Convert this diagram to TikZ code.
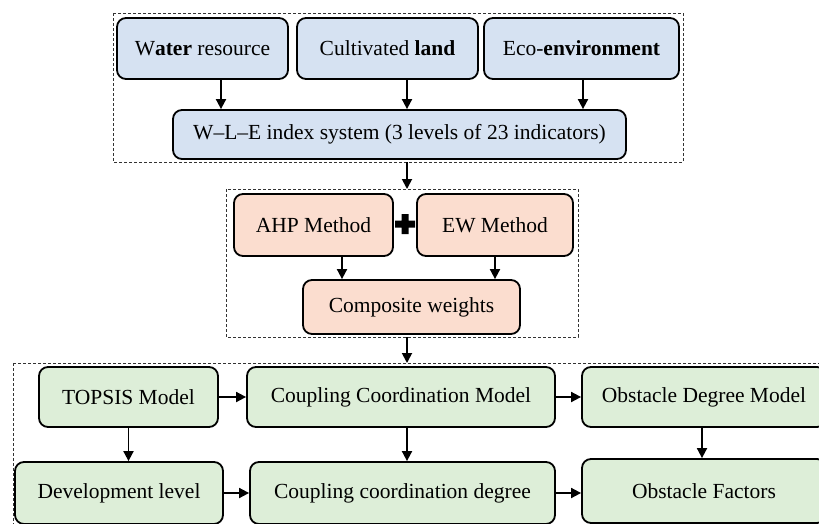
\documentclass[tikz,border=0pt]{standalone}
\usepackage{fontspec}
\setmainfont{Liberation Serif}
\usetikzlibrary{arrows.meta}
\definecolor{bluefill}{HTML}{D6E2F2}
\definecolor{orangefill}{HTML}{FBDDCF}
\definecolor{greenfill}{HTML}{DDEED8}
\tikzset{
  box/.style={draw=black, line width=1.8pt, rounded corners=9pt, inner sep=0pt, font=\fontsize{21.5}{25}\selectfont},
  bluebox/.style={box, fill=bluefill},
  orangebox/.style={box, fill=orangefill},
  greenbox/.style={box, fill=greenfill},
  arr/.style={line width=1.8pt, -{Triangle[length=10pt,width=10pt]}},
  group/.style={draw=black!80, line width=0.9pt, dash pattern=on 3pt off 2pt},
}
\begin{document}
\begin{tikzpicture}[x=1pt,y=-1pt]
\useasboundingbox (0,0) rectangle (819,523);
\clip (0,0) rectangle (819,523);
% group frames
\draw[group] (113,13) rectangle (683,162);
\draw[group] (226,189) rectangle (578,337);
\draw[group] (13,363) rectangle (840,560);
\coordinate (g1s) at (407,162);
\coordinate (g2n) at (407,189);
\coordinate (g2s) at (407,337);
\coordinate (g3n) at (407,363);
% top
\node[bluebox, minimum width=171pt, minimum height=61pt] (water) at (202.5,48.5) {W\textbf{ater} resource};
\node[bluebox, minimum width=181pt, minimum height=61pt] (land) at (387.5,48.5) {Cultivated \textbf{land}};
\node[bluebox, minimum width=195pt, minimum height=61pt] (eco) at (581.5,48.5) {Eco-\textbf{environment}};
\node[bluebox, minimum width=453pt, minimum height=49pt] (wle) at (399.5,134.5) {W--L--E index system (3 levels of 23 indicators)};
% middle
\node[orangebox, minimum width=159pt, minimum height=62pt] (ahp) at (313.5,225) {AHP Method};
\node[orangebox, minimum width=156pt, minimum height=62pt] (ew) at (495,225) {EW Method};
\node[orangebox, minimum width=217pt, minimum height=54pt] (comp) at (411.5,307) {Composite weights};
\fill (405,224) +(-3.5,-10) rectangle +(3.5,10) +(-10,-3.5) rectangle +(10,3.5);
% bottom
\node[greenbox, minimum width=179pt, minimum height=60pt] (topsis) at (128.5,397) {TOPSIS Model};
\node[greenbox, minimum width=308pt, minimum height=60pt] (ccm) at (401,397) {Coupling Coordination Model};
\node[greenbox, minimum width=244pt, minimum height=60pt] (odm) at (704,397) {Obstacle Degree Model};
\node[greenbox, minimum width=208pt, minimum height=62pt] (dev) at (119,493) {Development level};
\node[greenbox, minimum width=305pt, minimum height=62pt] (ccd) at (402.5,493) {Coupling coordination degree};
\node[greenbox, minimum width=244pt, minimum height=64pt] (of) at (704,491) {Obstacle Factors};
% arrows
\draw[arr] (water.south -| 221,0) -- (wle.north -| 221,0);
\draw[arr] (land.south -| 407,0) -- (wle.north -| 407,0);
\draw[arr] (eco.south -| 583,0) -- (wle.north -| 583,0);
\draw[arr] (g1s) -- (g2n);
\draw[arr] (ahp.south -| 342,0) -- (comp.north -| 342,0);
\draw[arr] (ew.south -| 495,0) -- (comp.north -| 495,0);
\draw[arr] (g2s) -- (g3n);
\draw[arr] (topsis.east) -- (ccm.west);
\draw[arr] (ccm.east) -- (odm.west);
\draw[arr] (dev.east) -- (ccd.west);
\draw[arr] (ccd.east) -- (of.west |- ccd.east);
\draw[arr] (topsis.south) -- (dev.north -| topsis.south);
\draw[arr] (ccm.south -| 407,0) -- (ccd.north -| 407,0);
\draw[arr] (odm.south -| 702,0) -- (of.north -| 702,0);
\end{tikzpicture}
\end{document}
